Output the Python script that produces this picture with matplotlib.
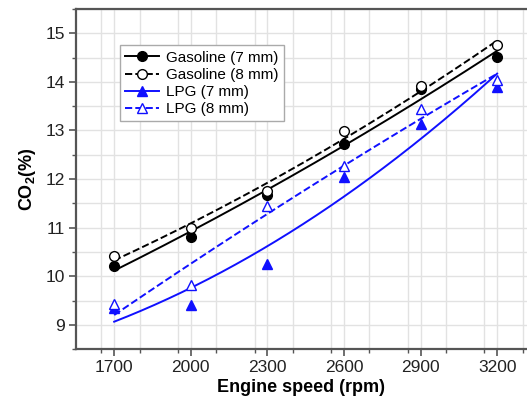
import numpy as np
import matplotlib
matplotlib.use("Agg")
import matplotlib.pyplot as plt
from matplotlib.ticker import MultipleLocator

plt.rcParams['font.family'] = ['Liberation Sans', 'DejaVu Sans']
plt.rcParams['mathtext.fontset'] = 'custom'
plt.rcParams['mathtext.rm'] = 'Liberation Sans'
plt.rcParams['mathtext.bf'] = 'Liberation Sans:bold'

# --- dados ---
rpm = [1700, 2000, 2300, 2600, 2900, 3200]
gas_7mm = [10.21, 10.81, 11.68, 12.72, 13.85, 14.51]
gas_8mm = [10.42, 10.99, 11.75, 12.99, 13.91, 14.75]
lpg_7mm = [9.35, 9.40, 10.25, 12.04, 13.13, 13.90]
lpg_8mm = [9.42, 9.81, 11.45, 12.27, 13.44, 14.03]

COR_PRETO = '#000000'
COR_AZUL = '#1010ff'
COR_GRADE = '#e2e2e2'
COR_EIXO = '#555555'

fig = plt.figure(figsize=(5.27, 4.05), dpi=100)
ax = fig.add_axes([0.144, 0.138, 0.856, 0.840])

x = np.array(rpm)
x_fit = np.linspace(x.min(), x.max(), 200)

series = [
    (gas_7mm, COR_PRETO, '-', 'o', COR_PRETO, 'Gasoline (7 mm)'),
    (gas_8mm, COR_PRETO, '--', 'o', 'white', 'Gasoline (8 mm)'),
    (lpg_7mm, COR_AZUL, '-', '^', COR_AZUL, 'LPG (7 mm)'),
    (lpg_8mm, COR_AZUL, '--', '^', 'white', 'LPG (8 mm)'),
]

for vals, cor, ls, mk, mfc, nome in series:
    # ajuste polinomial de 2a ordem (linha de tendência)
    coef = np.polyfit(x, vals, 2)
    ax.plot(x_fit, np.polyval(coef, x_fit), color=cor, linestyle=ls, linewidth=1.4, zorder=3)
    ax.plot(x, vals, linestyle='none', marker=mk, markersize=7,
            markerfacecolor=mfc, markeredgecolor=cor, markeredgewidth=1.0, zorder=4)
    # entrada da legenda
    ax.plot([], [], color=cor, linestyle=ls, linewidth=1.4, marker=mk, markersize=7,
            markerfacecolor=mfc, markeredgecolor=cor, label=nome)

ax.set_xlim(1550, 3317)
ax.set_ylim(8.5, 15.5)
ax.set_xticks(rpm)
ax.xaxis.set_minor_locator(MultipleLocator(150))
ax.yaxis.set_major_locator(MultipleLocator(1))
ax.yaxis.set_minor_locator(MultipleLocator(0.5))

ax.grid(True, which='both', color=COR_GRADE, linewidth=1.0, zorder=0)
ax.set_axisbelow(True)

ax.spines['right'].set_visible(False)
for s in ['top', 'left', 'bottom']:
    ax.spines[s].set_color(COR_EIXO)
    ax.spines[s].set_linewidth(1.6)

ax.tick_params(which='major', direction='out', length=5, width=1.2, color=COR_EIXO,
               labelsize=12.5, labelcolor='#222222', pad=3)
ax.tick_params(which='minor', direction='out', length=3, width=1.0, color=COR_EIXO)

ax.set_xlabel('Engine speed (rpm)', fontsize=13, fontweight='bold', labelpad=3)
ax.set_ylabel(r'CO$_\mathbf{2}$(%)', fontsize=13, fontweight='bold', labelpad=5)

leg = ax.legend(loc='upper left', bbox_to_anchor=(0.08, 0.915), fontsize=11,
                frameon=True, fancybox=False, edgecolor='#aaaaaa', framealpha=1,
                handlelength=2.2, handletextpad=0.5, borderpad=0.35, labelspacing=0.2)
leg.get_frame().set_linewidth(1.0)

fig.savefig('out.png', dpi=100)
